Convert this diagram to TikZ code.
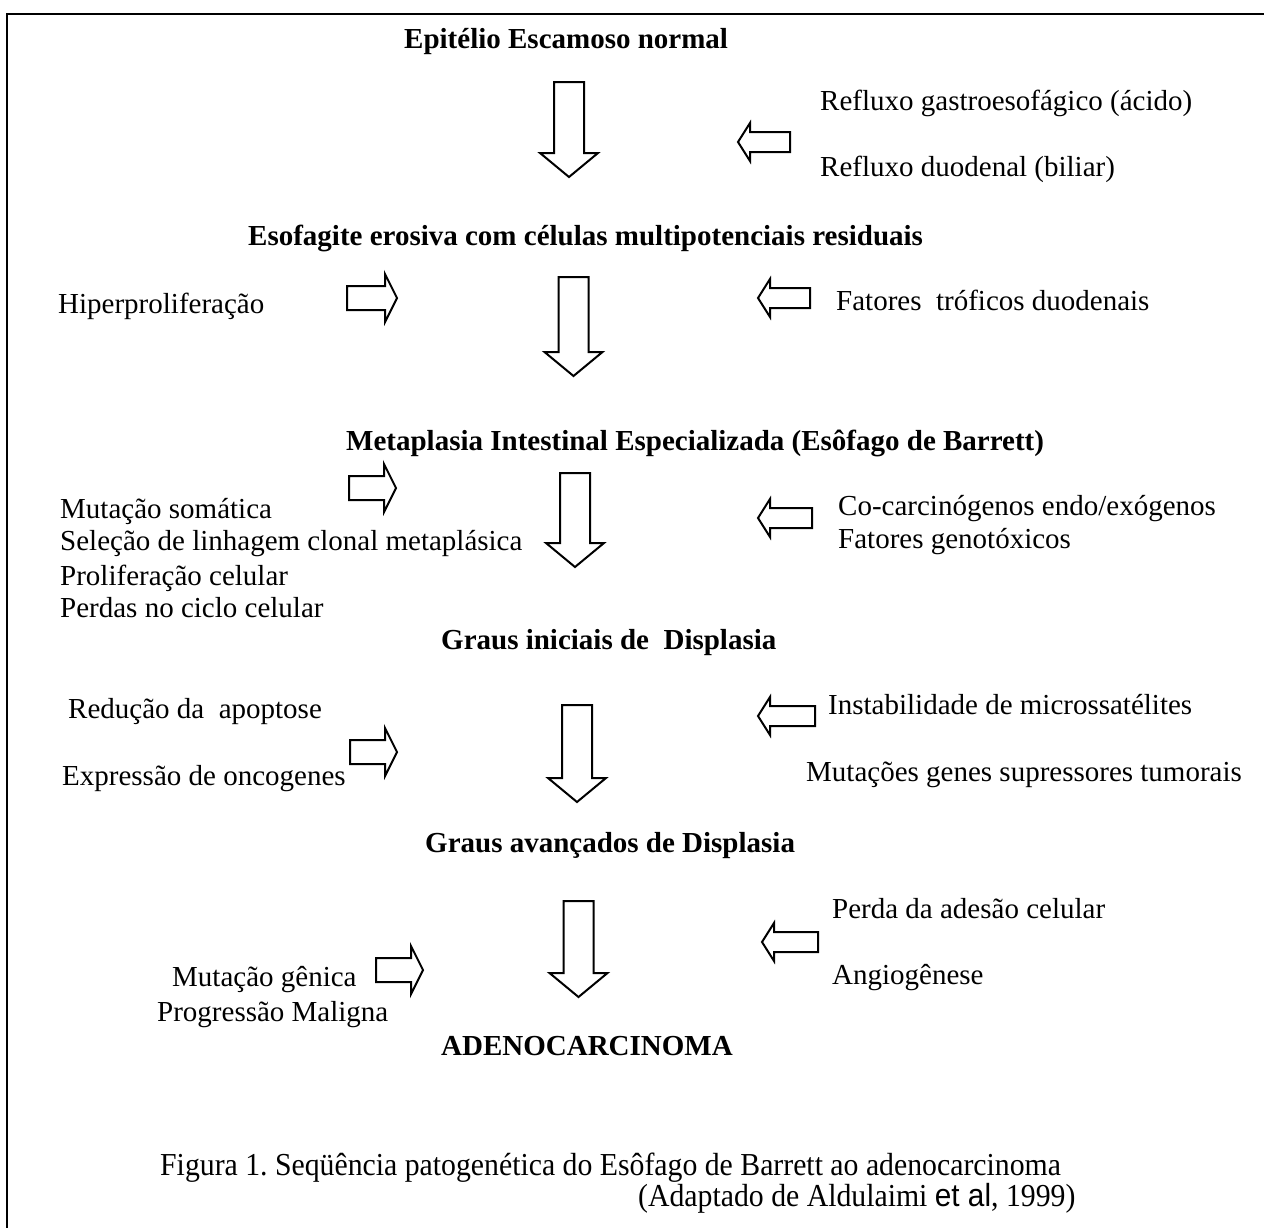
\documentclass[tikz,border=0pt]{standalone}
\usepackage{fontspec}
\usepackage{graphicx}
\setmainfont{Liberation Serif}
\newfontfamily\sansf{Liberation Sans}
\frenchspacing
\newcommand\downblk[3]{% cx, top, tip
  \draw[blk] (#1-15,#2) -- (#1+15,#2) -- (#1+15,#3-24) -- (#1+29,#3-24) -- (#1,#3) -- (#1-29,#3-24) -- (#1-15,#3-24) -- cycle;}
\newcommand\rightblk[3]{% left, cy, tip
  \draw[blk] (#1,#2-12) -- (#3-12,#2-12) -- (#3-12,#2-24) -- (#3,#2) -- (#3-12,#2+24) -- (#3-12,#2+12) -- (#1,#2+12) -- cycle;}
\newcommand\leftblk[3]{% tip, cy, right
  \draw[blk] (#1,#2) -- (#1+12,#2-19) -- (#1+12,#2-10) -- (#3,#2-10) -- (#3,#2+10) -- (#1+12,#2+10) -- (#1+12,#2+19) -- cycle;}
\begin{document}
\begin{tikzpicture}[x=1pt,y=-1pt,line join=miter,
  txt/.style={anchor=base west,inner sep=0pt,font=\fontsize{29}{34}\selectfont},
  ttl/.style={anchor=base west,inner sep=0pt,font=\fontsize{29}{34}\selectfont\bfseries},
  captxt/.style={anchor=base west,inner sep=0pt,font=\fontsize{32}{36}\selectfont},
  blk/.style={draw=black,line width=2pt,fill=white}]
\useasboundingbox (0,0) rectangle (1264,1227);
\fill[white] (0,0) rectangle (1264,1227);
\draw[line width=2.2pt] (7,1240) -- (7,14) -- (1270,14);

% titles
\node[ttl] (t1) at (404,48) {Epitélio Escamoso normal};
\node[ttl] (t2) at (248,245) {Esofagite erosiva com células multipotenciais residuais};
\node[ttl] (t3) at (346,450) {Metaplasia Intestinal Especializada (Esôfago de Barrett)};
\node[ttl] (t4) at (441,649) {Graus iniciais de\ \ Displasia};
\node[ttl] (t5) at (425,852) {Graus avançados de Displasia};
\node[ttl] (t6) at (441,1055) {ADENOCARCINOMA};

% factors
\node[txt] (r1a) at (820,110) {Refluxo gastroesofágico (ácido)};
\node[txt] (r1b) at (820,176) {Refluxo duodenal (biliar)};
\node[txt] (l2) at (58,313) {Hiperproliferação};
\node[txt] (r2) at (836,310) {Fatores\ \ tróficos duodenais};
\node[txt] (l3a) at (60,518) {Mutação somática};
\node[txt] (l3b) at (60,550) {Seleção de linhagem clonal metaplásica};
\node[txt] (l3c) at (60,585) {Proliferação celular};
\node[txt] (l3d) at (60,617) {Perdas no ciclo celular};
\node[txt] (r3a) at (838,515) {Co-carcinógenos endo/exógenos};
\node[txt] (r3b) at (838,548) {Fatores genotóxicos};
\node[txt] (l4a) at (68,718) {Redução da\ \ apoptose};
\node[txt] (l4b) at (62,785) {Expressão de oncogenes};
\node[txt] (r4a) at (828,714) {Instabilidade de microssatélites};
\node[txt] (r4b) at (806,781) {Mutações genes supressores tumorais};
\node[txt] (r5a) at (832,918) {Perda da adesão celular};
\node[txt] (r5b) at (832,984) {Angiogênese};
\node[txt] (l5a) at (172,986) {Mutação gênica};
\node[txt] (l5b) at (157,1021) {Progressão Maligna};

% caption
\node[captxt] (c1) at (160,1175) {\scalebox{0.93}[1]{Figura 1. Seqüência patogenética do Esôfago de Barrett ao adenocarcinoma}};
\node[captxt] (c2) at (638,1206) {\scalebox{0.93}[1]{(Adaptado de Aldulaimi {\sansf et al}, 1999)}};

% down arrows
\downblk{569}{82}{177}
\downblk{573.5}{277}{376}
\downblk{575}{473}{567}
\downblk{577}{705}{802}
\downblk{578.5}{901}{997}
% right arrows
\rightblk{347}{298}{397}
\rightblk{349}{488}{396}
\rightblk{350}{752}{397}
\rightblk{376}{970}{423}
% left arrows
\leftblk{738}{142}{790}
\leftblk{758}{298}{810}
\leftblk{758}{518}{812}
\leftblk{758}{716}{815}
\leftblk{762}{942}{818}
\end{tikzpicture}
\end{document}
